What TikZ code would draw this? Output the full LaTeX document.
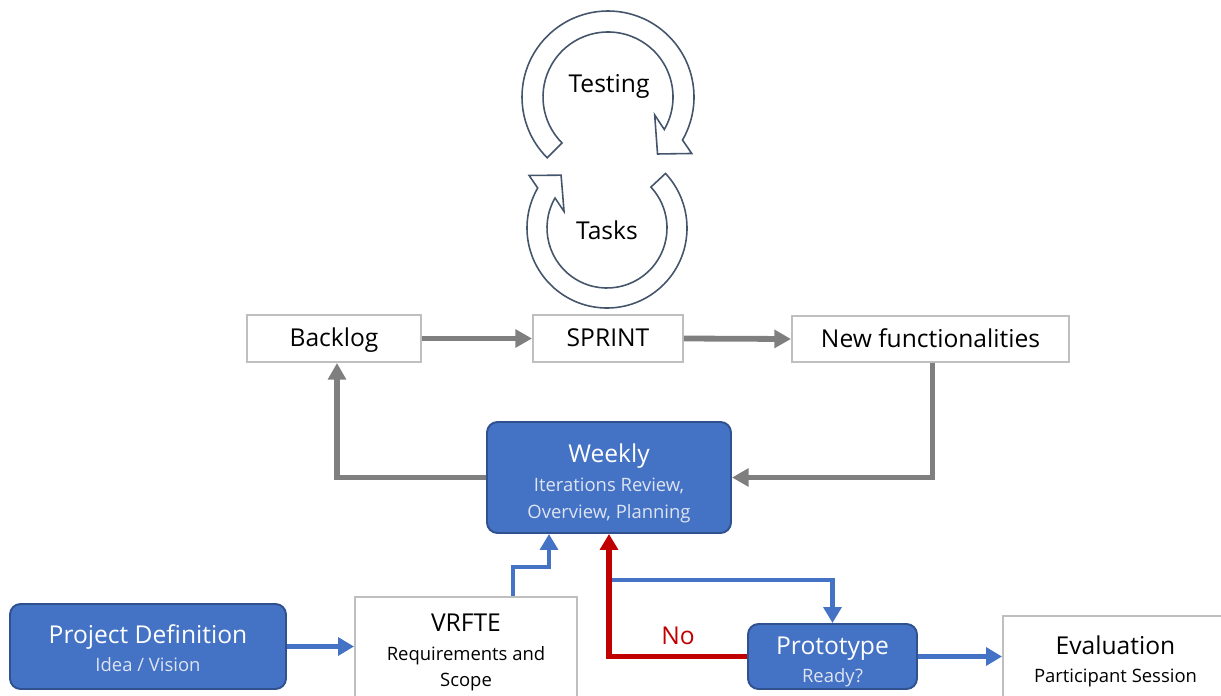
\documentclass[tikz,border=0pt]{standalone}
\usepackage{fontspec}
\setmainfont{Open Sans}
\usetikzlibrary{arrows.meta, calc, positioning}

\definecolor{boxblue}{HTML}{4472C4}
\definecolor{boxedge}{HTML}{2F528F}
\definecolor{greyedge}{HTML}{BFBFBF}
\definecolor{greyline}{HTML}{7F7F7F}
\definecolor{noRed}{HTML}{C00000}
\definecolor{loopedge}{HTML}{44546A}
\definecolor{subwhite}{HTML}{DDE4F2}

\newcommand{\subtxt}[1]{{\fontsize{10.5}{14}\selectfont #1}}
\newcommand{\subwtxt}[1]{{\fontsize{10.5}{14}\selectfont\color{subwhite}#1}}

\begin{document}
\begin{tikzpicture}[x=0.2mm, y=-0.2mm,
    font=\fontsize{14}{17}\selectfont,
    greybox/.style={rectangle, draw=greyedge, line width=1.1pt, fill=white, inner sep=0pt, align=center},
    bluebox/.style={rectangle, rounded corners=6pt, draw=boxedge, line width=1.1pt, fill=boxblue, text=white, inner sep=0pt, align=center},
    greyarrow/.style={draw=greyline, line width=3.3pt, -{Triangle[length=9.5pt, width=10pt]}},
    bluearrow/.style={draw=boxblue, line width=2.7pt, -{Triangle[length=9pt, width=10pt]}},
    redarrow/.style={draw=noRed, line width=3.1pt, -{Triangle[length=9pt, width=10pt]}},
    looparrow/.style={draw=loopedge, line width=0.9pt, fill=white, line join=miter}]
    \useasboundingbox (0,0) rectangle (1221,695);

    % sprint loop
    \coordinate (testC) at (608,97);
    \coordinate (taskC) at (607,228);
    \draw[looparrow] ($(testC)+(-225:86)$) arc[start angle=-225, end angle=30, radius=86]
        -- ($(testC)+(34:101)$) -- ($(testC)+(49:75.5)$) -- ($(testC)+(21:50)$)
        -- ($(testC)+(30:65)$) arc[start angle=30, end angle=-225, radius=65] -- cycle;
    \draw[looparrow] ($(taskC)+(-43:80)$) arc[start angle=-43, end angle=210, radius=80]
        -- ($(taskC)+(214:94)$) -- ($(taskC)+(229:70)$) -- ($(taskC)+(201:46)$)
        -- ($(taskC)+(210:60)$) arc[start angle=210, end angle=-43, radius=60] -- cycle;
    \node (testing) at (609,86) {Testing};
    \node (tasks) at (607,230) {Tasks};

    % scrum row
    \node[greybox, minimum width=3.48cm, minimum height=0.94cm, text depth=0.3ex] (backlog) at (334,338.5) {Backlog};
    \node[greybox, minimum width=3cm, minimum height=0.94cm, text depth=0.3ex] (sprint) at (608,338.5) {SPRINT};
    \node[greybox, minimum width=5.54cm, minimum height=0.92cm, text depth=0.3ex] (newfunc) at (930.5,339) {New functionalities};

    % weekly meeting
    \node[bluebox, minimum width=4.88cm, minimum height=2.22cm] (weekly) at (609,477.5)
        {\rule{0pt}{17pt}Weekly\\[0pt]\subwtxt{Iterations Review,}\\[-2pt]\subwtxt{Overview, Planning}};

    % bottom row
    \node[bluebox, minimum width=5.52cm, minimum height=1.7cm] (projdef) at (148,646.5)
        {\rule{0pt}{13pt}Project Definition\\[-1pt]\subwtxt{Idea / Vision}};
    \node[greybox, minimum width=4.44cm, minimum height=2.12cm] (vrfte) at (466,650)
        {\rule{0pt}{13pt}VRFTE\\[-1pt]\subtxt{Requirements and}\\[-2pt]\subtxt{Scope}};
    \node[bluebox, minimum width=3.38cm, minimum height=1.3cm] (proto) at (832.5,656.5)
        {\rule{0pt}{16pt}Prototype\\[-1pt]\subwtxt{Ready?}};
    \node[greybox, minimum width=4.5cm, minimum height=1.8cm] (eval) at (1115.5,661)
        {Evaluation\\[-1pt]\subtxt{Participant Session}};

    % arrows
    \draw[greyarrow] (backlog) -- (sprint);
    \draw[greyarrow] (sprint.east) -- (newfunc.west);
    \draw[greyarrow] ($(newfunc.south)+(2,0)$) |- (weekly.east);
    \draw[greyarrow] (weekly.west) -| ($(backlog.south)+(3,0)$);
    \draw[bluearrow] (projdef.east) -- (projdef.east -| vrfte.west);
    \draw[bluearrow] ($(vrfte.north)+(47,0)$) -- ++(0,-29) -| ($(weekly.south)+(-60,0)$);
    \draw[redarrow] (proto.west) -| (weekly.south) node[pos=0.25, above=2pt, text=noRed] (nolabel) {No};
    \coordinate (split) at ($(weekly.south)+(3,46)$);
    \draw[bluearrow] (split) -| (proto.north);
    \draw[bluearrow] (proto.east) -- (proto.east -| eval.west);
\end{tikzpicture}
\end{document}
